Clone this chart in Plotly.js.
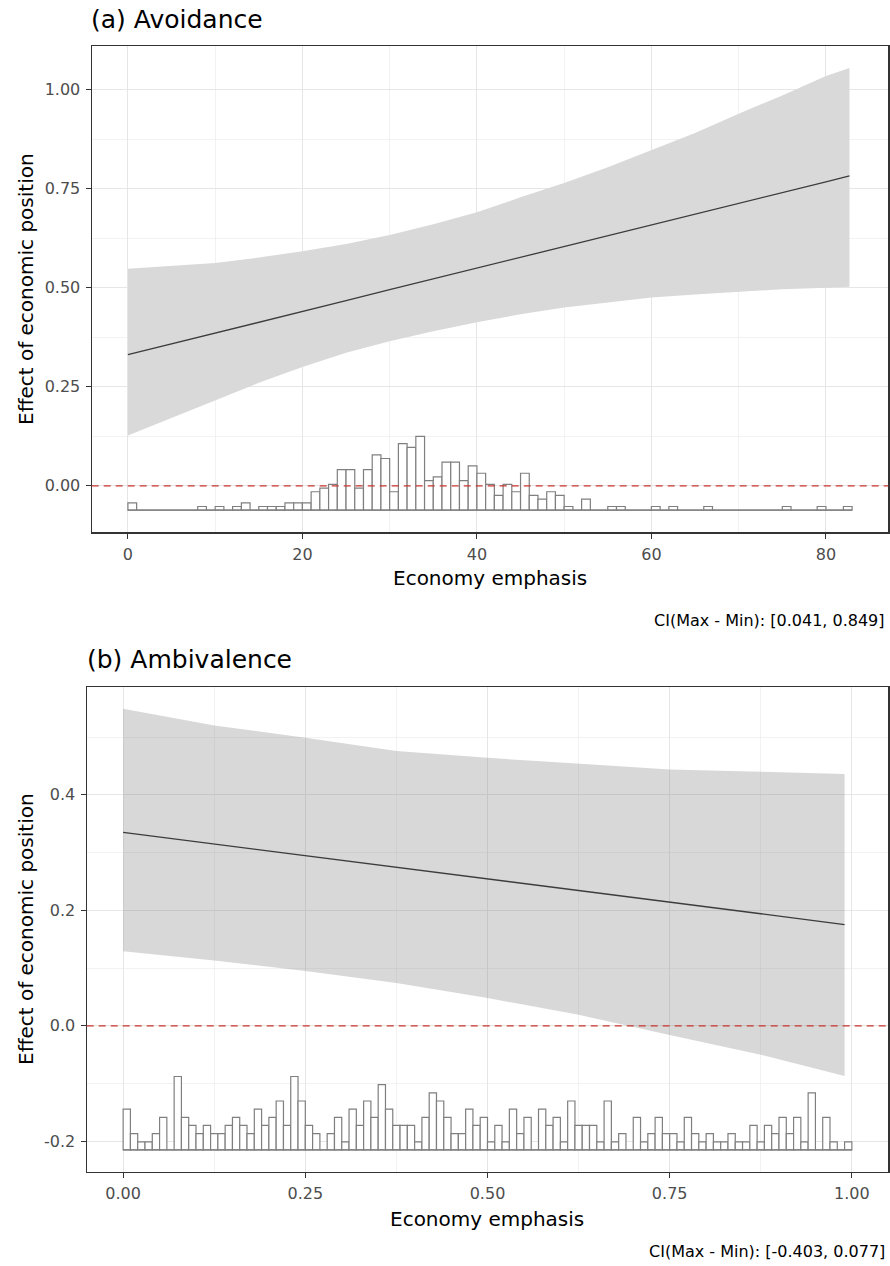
<!DOCTYPE html>
<html>
<head>
<meta charset="utf-8">
<script src="https://cdn.plot.ly/plotly-3.0.1.min.js"></script>
<style>
  html, body { margin: 0; padding: 0; background: #ffffff; }
  #chart { width: 890px; height: 1266px; }
</style>
</head>
<body>
<div id="chart"></div>
<script>
// ---------- (a) Avoidance ----------
const avoidX      = [0, 5, 10, 15, 20, 25, 30, 35, 40, 45, 50, 55, 60, 65, 70, 75, 80, 82.7];
const avoidEffect = [0.331, 0.358, 0.386, 0.413, 0.440, 0.467, 0.495, 0.522, 0.549, 0.576, 0.604, 0.631, 0.658, 0.685, 0.713, 0.740, 0.767, 0.782];
const avoidLower  = [0.127, 0.171, 0.215, 0.260, 0.300, 0.336, 0.365, 0.390, 0.413, 0.433, 0.450, 0.462, 0.475, 0.483, 0.490, 0.496, 0.500, 0.502];
const avoidUpper  = [0.548, 0.555, 0.562, 0.576, 0.592, 0.610, 0.633, 0.660, 0.690, 0.728, 0.764, 0.804, 0.846, 0.890, 0.939, 0.985, 1.034, 1.054];
// counts of economy emphasis per 1-point bin, 0..83
const avoidCounts = [
  2, 0, 0, 0, 0, 0, 0, 0, 1, 0,
  1, 0, 1, 2, 0, 1, 1, 1, 2, 2,
  2, 5, 6, 7, 11, 11, 6, 11, 15, 14,
  5, 18, 17, 20, 8, 9, 13, 13, 8, 12,
  10, 7, 4, 7, 5, 10, 4, 3, 5, 4,
  1, 0, 3, 0, 0, 1, 1, 0, 0, 0,
  1, 0, 1, 0, 0, 0, 1, 0, 0, 0,
  0, 0, 0, 0, 0, 1, 0, 0, 0, 1,
  0, 0, 1
];
const avoidXTicks  = [0, 20, 40, 60, 80];
const avoidXLabels = ['0', '20', '40', '60', '80'];
const avoidYTicks  = [0, 0.25, 0.5, 0.75, 1.0];
const avoidYLabels = ['0.00', '0.25', '0.50', '0.75', '1.00'];

// ---------- (b) Ambivalence ----------
const ambX      = [0, 0.125, 0.25, 0.375, 0.5, 0.625, 0.75, 0.875, 0.99];
const ambEffect = [0.335, 0.315, 0.295, 0.275, 0.255, 0.235, 0.214, 0.194, 0.175];
const ambLower  = [0.129, 0.113, 0.095, 0.074, 0.048, 0.019, -0.016, -0.050, -0.087];
const ambUpper  = [0.549, 0.520, 0.499, 0.476, 0.464, 0.454, 0.444, 0.440, 0.436];
// counts of economy emphasis per 0.01 bin, 0..1
const ambCounts = [
  5, 2, 1, 1, 2, 4, 0, 9, 4, 3,
  2, 3, 2, 2, 3, 4, 3, 2, 5, 3,
  4, 6, 3, 9, 6, 3, 2, 0, 2, 4,
  1, 5, 3, 6, 4, 8, 5, 3, 3, 3,
  1, 4, 7, 6, 4, 2, 2, 5, 3, 4,
  1, 3, 1, 5, 2, 4, 0, 5, 3, 4,
  1, 6, 3, 3, 3, 1, 6, 1, 2, 0,
  4, 1, 2, 4, 2, 2, 1, 4, 2, 1,
  2, 1, 1, 2, 1, 1, 3, 1, 3, 2,
  4, 2, 4, 1, 7, 0, 4, 1, 0, 1
];
const ambXTicks  = [0, 0.25, 0.5, 0.75, 1.0];
const ambXLabels = ['0.00', '0.25', '0.50', '0.75', '1.00'];
const ambYTicks  = [-0.2, 0, 0.2, 0.4];
const ambYLabels = ['-0.2', '0.0', '0.2', '0.4'];

const ciTextA = 'CI(Max - Min): [0.041, 0.849]';
const ciTextB = 'CI(Max - Min): [-0.403, 0.077]';

// ---------- drawing ----------
const W = 890, H = 1266;
const fx = p => p / W;
const fy = p => 1 - p / H;
const FONT = 'DejaVu Sans, Liberation Sans, Arial, sans-serif';

// histogram placement inside each panel (baseline and height of one count)
const HIST_A = { base: -0.0615, perCount: 0.00932, binWidth: 1 };
const HIST_B = { base: -0.215,  perCount: 0.01413, binWidth: 0.01 };

function padded(lo, hi) { const s = hi - lo; return [lo - 0.05 * s, hi + 0.05 * s]; }
function midpoints(t) {
  const step = t[1] - t[0];
  const out = [t[0] - step / 2];
  for (let i = 0; i < t.length; i++) out.push(t[i] + step / 2);
  return out;
}

function panelTraces(xs, eff, lo, up, counts, hist, bandFill, xa, ya) {
  const centers = counts.map((_, i) => (i + 0.5) * hist.binWidth);
  const heights = counts.map(c => c * hist.perCount);
  const end = counts.length * hist.binWidth;
  return [
    { x: xs, y: lo, xaxis: xa, yaxis: ya, type: 'scatter', mode: 'lines',
      line: { width: 0, color: 'rgba(0,0,0,0)' }, hoverinfo: 'skip', showlegend: false },
    { x: xs, y: up, xaxis: xa, yaxis: ya, type: 'scatter', mode: 'lines', fill: 'tonexty',
      fillcolor: bandFill, line: { width: 0, color: 'rgba(0,0,0,0)' }, hoverinfo: 'skip', showlegend: false },
    { x: xs, y: eff, xaxis: xa, yaxis: ya, type: 'scatter', mode: 'lines',
      line: { color: '#3c3c3c', width: 1.3 }, showlegend: false },
    { x: [0, end], y: [hist.base, hist.base], xaxis: xa, yaxis: ya, type: 'scatter', mode: 'lines',
      line: { color: '#7f7f7f', width: 1.2 }, hoverinfo: 'skip', showlegend: false },
    { x: centers, y: heights, base: hist.base, width: hist.binWidth, xaxis: xa, yaxis: ya, type: 'bar',
      marker: { color: '#ffffff', line: { color: '#7f7f7f', width: 1.2 } }, showlegend: false }
  ];
}

const data = [].concat(
  panelTraces(avoidX, avoidEffect, avoidLower, avoidUpper, avoidCounts, HIST_A, '#d9d9d9', 'x', 'y'),
  panelTraces(ambX, ambEffect, ambLower, ambUpper, ambCounts, HIST_B, 'rgba(127,127,127,0.30)', 'x2', 'y2')
);

const tickFont = { family: FONT, size: 16, color: '#4d4d4d' };
function axis(extra, ticks, labels) {
  return Object.assign({
    tickmode: 'array', tickvals: ticks, ticktext: labels,
    ticks: 'outside', ticklen: 5, tickwidth: 1, tickcolor: '#333333',
    tickfont: tickFont, ticklabelstandoff: 2,
    showline: true, mirror: true, linecolor: '#333333', linewidth: 1.2,
    showgrid: true, gridcolor: '#e6e6e6', gridwidth: 1.1,
    zeroline: false, fixedrange: true,
    minor: { tickmode: 'array', tickvals: midpoints(ticks), showgrid: true,
             gridcolor: '#ececec', gridwidth: 0.7, ticks: '' }
  }, extra);
}

const titleFont = { family: FONT, size: 25, color: '#000' };
const axisTitleFont = { family: FONT, size: 20, color: '#000' };
const capFont = { family: FONT, size: 16, color: '#000' };

const layout = {
  width: W, height: H, autosize: false,
  margin: { l: 0, r: 0, t: 0, b: 0 },
  paper_bgcolor: '#ffffff', plot_bgcolor: '#ffffff',
  showlegend: false, barmode: 'overlay', bargap: 0,
  font: { family: FONT, color: '#000000' },
  xaxis: axis({ domain: [fx(91.7), fx(888.3)], anchor: 'y',
                range: padded(0, avoidCounts.length * HIST_A.binWidth) }, avoidXTicks, avoidXLabels),
  yaxis: axis({ domain: [fy(532.3), fy(46)], anchor: 'x',
                range: padded(HIST_A.base, Math.max(...avoidUpper)) }, avoidYTicks, avoidYLabels),
  xaxis2: axis({ domain: [fx(86.7), fx(888.3)], anchor: 'y2',
                 range: padded(0, ambCounts.length * HIST_B.binWidth) }, ambXTicks, ambXLabels),
  yaxis2: axis({ domain: [fy(1172), fy(686.7)], anchor: 'x2',
                 range: padded(HIST_B.base, Math.max(...ambUpper)) }, ambYTicks, ambYLabels),
  shapes: [
    { type: 'line', xref: 'x domain', x0: 0, x1: 1, yref: 'y', y0: 0, y1: 0, layer: 'above',
      line: { color: '#c8352f', width: 1.3, dash: '7px,5px' } },
    { type: 'line', xref: 'x2 domain', x0: 0, x1: 1, yref: 'y2', y0: 0, y1: 0, layer: 'above',
      line: { color: '#c8352f', width: 1.3, dash: '7px,5px' } }
  ],
  annotations: [
    { text: '(a) Avoidance', xref: 'paper', yref: 'paper', x: fx(89), y: fy(20),
      xanchor: 'left', yanchor: 'middle', showarrow: false, font: titleFont },
    { text: '(b) Ambivalence', xref: 'paper', yref: 'paper', x: fx(85), y: fy(659),
      xanchor: 'left', yanchor: 'middle', showarrow: false, font: titleFont },
    { text: 'Economy emphasis', xref: 'paper', yref: 'paper', x: fx(490), y: fy(578),
      xanchor: 'center', yanchor: 'middle', showarrow: false, font: axisTitleFont },
    { text: 'Economy emphasis', xref: 'paper', yref: 'paper', x: fx(487.5), y: fy(1219),
      xanchor: 'center', yanchor: 'middle', showarrow: false, font: axisTitleFont },
    { text: 'Effect of economic position', xref: 'paper', yref: 'paper', x: fx(26), y: fy(289),
      xanchor: 'center', yanchor: 'middle', textangle: -90, showarrow: false, font: axisTitleFont },
    { text: 'Effect of economic position', xref: 'paper', yref: 'paper', x: fx(26), y: fy(929),
      xanchor: 'center', yanchor: 'middle', textangle: -90, showarrow: false, font: axisTitleFont },
    { text: ciTextA, xref: 'paper', yref: 'paper', x: fx(887), y: fy(620),
      xanchor: 'right', yanchor: 'middle', showarrow: false, font: capFont },
    { text: ciTextB, xref: 'paper', yref: 'paper', x: fx(887), y: fy(1251),
      xanchor: 'right', yanchor: 'middle', showarrow: false, font: capFont }
  ]
};

Plotly.newPlot('chart', data, layout, { displayModeBar: false, staticPlot: true });
</script>
</body>
</html>
